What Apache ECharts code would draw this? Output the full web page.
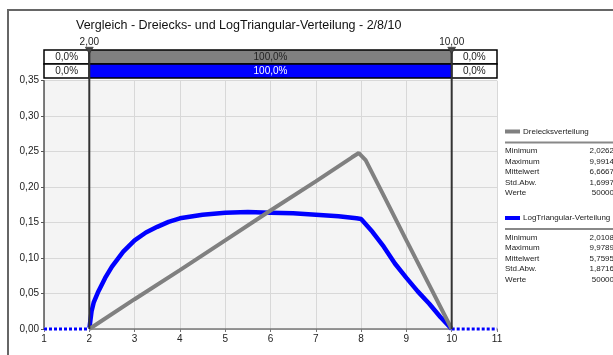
<!DOCTYPE html>
<html><head><meta charset="utf-8">
<script src="https://cdn.jsdelivr.net/npm/echarts@6/dist/echarts.min.js"></script>
<style>html,body{margin:0;padding:0;background:#fff}#c{width:613px;height:355px}</style>
</head><body><div id="c"></div>
<script>
const titleText = 'Vergleich - Dreiecks- und LogTriangular-Verteilung - 2/8/10';
const xTicks = [1,2,3,4,5,6,7,8,9,10,11];
const grayX = [2,3,4,5,6,7,7.8,7.95,8.1,8.5,9,9.5,10];
const grayY = [0,0.042,0.083,0.125,0.167,0.208,0.242,0.248,0.238,0.188,0.125,0.0625,0];
const blueX = [2,2.05,2.1,2.2,2.35,2.5,2.75,3,3.25,3.5,3.75,4,4.5,5,5.5,6,6.5,7,7.5,7.9,8.0,8.25,8.5,8.75,9,9.25,9.5,9.75,10];
const blueY = [0,0.025,0.038,0.053,0.072,0.088,0.109,0.125,0.136,0.144,0.151,0.156,0.161,0.164,0.165,0.164,0.163,0.161,0.159,0.156,0.155,0.137,0.116,0.092,0.072,0.053,0.036,0.017,0];
const zeroX = [1,2,10,11];
const zeroY = [0,0,0,0];
const markerX = [2,10];
const markerLabels = ['2,00','10,00'];
const segStart = [1,2,10];
const segEnd = [2,10,11];
const topLabels = ['0,0%','100,0%','0,0%'];
const bottomLabels = ['0,0%','100,0%','0,0%'];
const seriesNames = ['Dreiecksverteilung','LogTriangular-Verteilung'];
const statNames = ['Minimum','Maximum','Mittelwert','Std.Abw.','Werte'];
const grayStats = ['2,0262','9,9914','6,6667','1,6997','50000'];
const blueStats = ['2,0108','9,9789','5,7595','1,8716','50000'];

const GRAY = '#808080', BLUE = '#0000ff';
const FONT = 'Liberation Sans, Arial, sans-serif';

const chart = echarts.init(document.getElementById('c'), null, {renderer:'canvas'});

const segData = [];
for (let i=0;i<3;i++){
  segData.push([segStart[i], segEnd[i], 0, topLabels[i], i===1?GRAY:'#ffffff', '#222']);
  segData.push([segStart[i], segEnd[i], 1, bottomLabels[i], i===1?BLUE:'#ffffff', i===1?'#ffffff':'#222']);
}

const zeroData = [[zeroX[0],zeroY[0]],[zeroX[1],zeroY[1]],[6,'-'],[zeroX[2],zeroY[2]],[zeroX[3],zeroY[3]]];

function legendBlock(y, color, name, stats){
  const els = [];
  els.push({type:'line', shape:{x1:505,y1:y,x2:520,y2:y}, style:{stroke:color, lineWidth:4}});
  els.push({type:'text', x:523, y:y, style:{text:name, font:'8px '+FONT, fill:'#222', verticalAlign:'middle'}});
  els.push({type:'line', shape:{x1:505,y1:y+11,x2:613,y2:y+11}, style:{stroke:'#888', lineWidth:2}});
  for (let i=0;i<statNames.length;i++){
    const yy = y+19.5+i*10.5;
    els.push({type:'text', x:505, y:yy, style:{text:statNames[i], font:'8px '+FONT, fill:'#222', verticalAlign:'middle'}});
    els.push({type:'text', x:614, y:yy, style:{text:stats[i], font:'8px '+FONT, fill:'#222', verticalAlign:'middle', align:'right'}});
  }
  return els;
}

const option = {
  animation:false,
  backgroundColor:'#ffffff',
  title:{text:titleText, left:71, top:14, textStyle:{fontFamily:FONT, fontSize:12.5, fontWeight:'normal', color:'#111'}},
  grid:[
    {left:44, right:116, top:80.7, bottom:26, show:true, backgroundColor:'#f4f4f4', borderWidth:0},
    {left:44, right:116, top:50, height:28, show:false}
  ],
  xAxis:[
    {gridIndex:0, type:'value', min:1, max:11, interval:1,
     axisLine:{show:true, lineStyle:{color:'#777', width:1.5}},
     axisTick:{show:true, length:3, lineStyle:{color:'#777'}},
     axisLabel:{fontFamily:FONT, fontSize:10, color:'#222', margin:5},
     splitLine:{show:true, lineStyle:{color:'#d8d8d8', width:1}}},
    {gridIndex:1, type:'value', min:1, max:11, show:false}
  ],
  yAxis:[
    {gridIndex:0, type:'value', min:0, max:0.35, interval:0.05,
     axisLine:{show:true, lineStyle:{color:'#555', width:1.5}},
     axisTick:{show:true, length:3, lineStyle:{color:'#555'}},
     axisLabel:{fontFamily:FONT, fontSize:10, color:'#222', margin:5, formatter:v=>v.toFixed(2).replace('.',',')},
     splitLine:{show:true, lineStyle:{color:'#d8d8d8', width:1}}},
    {gridIndex:1, type:'category', data:['a','b'], inverse:true, show:false}
  ],
  series:[
    {type:'line', name:seriesNames[1], xAxisIndex:0, yAxisIndex:0, data:blueX.map((x,i)=>[x,blueY[i]]),
     showSymbol:false, symbol:'none', lineStyle:{color:BLUE, width:4.5}, z:3},
    {type:'line', name:seriesNames[0], xAxisIndex:0, yAxisIndex:0, data:grayX.map((x,i)=>[x,grayY[i]]),
     showSymbol:false, symbol:'none', lineStyle:{color:GRAY, width:4}, z:4},
    {type:'line', xAxisIndex:0, yAxisIndex:0, data:zeroData, connectNulls:false,
     showSymbol:false, symbol:'none', lineStyle:{color:'#ffffff', width:3}, z:5, clip:false},
    {type:'line', xAxisIndex:0, yAxisIndex:0, data:zeroData, connectNulls:false,
     showSymbol:false, symbol:'none', lineStyle:{color:BLUE, width:3, type:[3,2]}, z:6, clip:false},
    {type:'custom', xAxisIndex:1, yAxisIndex:1, data:segData, z:7, clip:false,
     renderItem:function(params, api){
       const x0 = api.value(0), x1 = api.value(1), row = api.value(2);
       const p0 = api.coord([x0,row]), p1 = api.coord([x1,row]);
       const h = api.size([0,1])[1];
       const d = segData[params.dataIndex];
       return {type:'group', children:[
         {type:'rect', shape:{x:p0[0], y:p0[1]-h/2, width:p1[0]-p0[0], height:h},
          style:{fill:d[4], stroke:'#000', lineWidth:1.5}},
         {type:'text', x:(p0[0]+p1[0])/2, y:p0[1], style:{text:d[3], font:'10px '+FONT, fill:d[5], align:'center', verticalAlign:'middle'}}
       ]};
     }},
    {type:'custom', xAxisIndex:0, yAxisIndex:0, data:markerX.map((x,i)=>[x,0]), z:8, clip:false,
     renderItem:function(params, api){
       const x = api.value(0);
       const p = api.coord([x,0]);
       const topY = api.coord([x,0.35])[1] - 34;
       return {type:'group', children:[
         {type:'line', shape:{x1:p[0], y1:p[1], x2:p[0], y2:topY+2}, style:{stroke:'#333', lineWidth:2}},
         {type:'polygon', shape:{points:[[p[0]-4,topY+0.5],[p[0]+4,topY+0.5],[p[0],topY+7]]}, style:{fill:'#444', stroke:'#222', lineWidth:0.5}},
         {type:'text', x:p[0], y:topY+0.5, style:{text:markerLabels[params.dataIndex], font:'10px '+FONT, fill:'#222', align:'center', verticalAlign:'bottom'}}
       ]};
     }}
  ],
  graphic:[
    {type:'line', shape:{x1:8,y1:355,x2:8,y2:10}, style:{stroke:'#666', lineWidth:2}},
    {type:'line', shape:{x1:7,y1:10,x2:613,y2:10}, style:{stroke:'#666', lineWidth:2}},
    ...legendBlock(131.5, GRAY, seriesNames[0], grayStats),
    ...legendBlock(218, BLUE, seriesNames[1], blueStats)
  ]
};
chart.setOption(option);
</script>
</body></html>
